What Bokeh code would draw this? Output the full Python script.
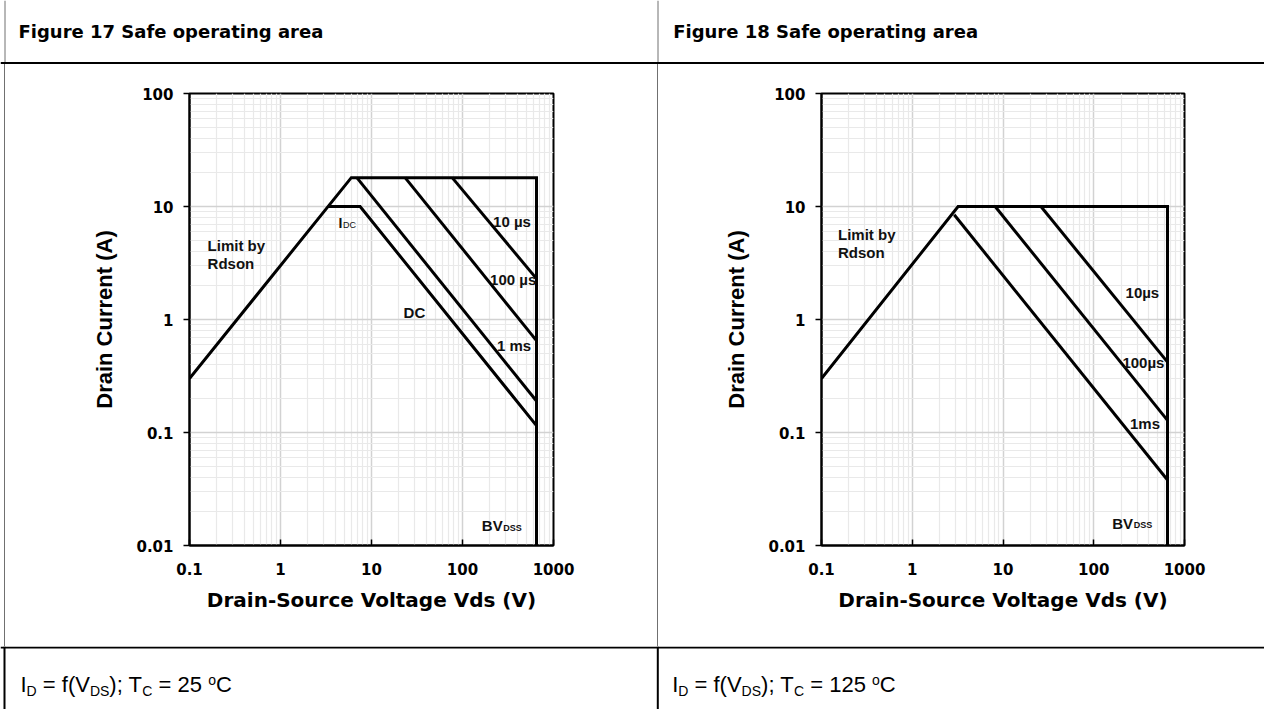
from bokeh.plotting import figure
from bokeh.layouts import column, row
from bokeh.models import Range1d, FixedTicker, Label, Span, Div, Spacer, CustomJSTickFormatter
from bokeh.embed import file_html
from bokeh.resources import INLINE

# ---------------- data ----------------
X_TICKS = [0.1, 1, 10, 100, 1000]
X_TICK_LABELS = ["0.1", "1", "10", "100", "1000"]
Y_TICKS = [0.01, 0.1, 1, 10, 100]
Y_TICK_LABELS = ["0.01", "0.1", "1", "10", "100"]
X_LABEL = "Drain-Source Voltage Vds (V)"
Y_LABEL = "Drain Current (A)"

# Figure 17 : Tc = 25 degC
F17_LIMIT_V = [0.1, 6.0, 650, 650]
F17_LIMIT_I = [0.3, 18, 18, 0.01]
F17_IDC_V = [3.33, 7.5, 650]
F17_IDC_I = [10, 10, 0.115]
F17_1MS_V = [6.9, 650]
F17_1MS_I = [18, 0.19]
F17_100US_V = [23.4, 650]
F17_100US_I = [18, 0.65]
F17_10US_V = [77, 650]
F17_10US_I = [18, 2.3]

# Figure 18 : Tc = 125 degC
F18_LIMIT_V = [0.1, 3.2, 650, 650]
F18_LIMIT_I = [0.3, 10, 10, 0.01]
F18_1MS_V = [2.9, 650]
F18_1MS_I = [8.45, 0.038]
F18_100US_V = [8.2, 650]
F18_100US_I = [10, 0.128]
F18_10US_V = [26.2, 650]
F18_10US_I = [10, 0.42]

TITLES = ["Figure 17 Safe operating area", "Figure 18 Safe operating area"]
TEMPS = ["25", "125"]

# grid minor positions (2..9 in each decade)
X_MINOR = [m * 10.0 ** e for e in range(-1, 3) for m in range(2, 10)]
Y_MINOR = [m * 10.0 ** e for e in range(-2, 2) for m in range(2, 10)]

LABEL_FONT = "Liberation Sans"
TICK_FONT = "DejaVu Sans"


def soa_plot(curves, labels, b_left, b_right, frame_w):
    p = figure(frame_width=frame_w, frame_height=452,
               min_border_left=b_left, min_border_right=b_right,
               min_border_top=29, min_border_bottom=101,
               x_axis_type="log", y_axis_type="log",
               x_range=Range1d(0.1, 1000), y_range=Range1d(0.01, 100),
               output_backend="svg", toolbar_location=None)
    p.background_fill_color = "white"
    p.border_fill_color = "white"
    p.outline_line_color = "black"
    p.outline_line_width = 2

    xt = FixedTicker(ticks=X_TICKS, minor_ticks=X_MINOR)
    yt = FixedTicker(ticks=Y_TICKS, minor_ticks=Y_MINOR)
    p.xaxis.ticker = xt
    p.xgrid.ticker = xt
    p.yaxis.ticker = yt
    p.ygrid.ticker = yt
    fmt = CustomJSTickFormatter(code="return String(tick);")
    p.xaxis.formatter = fmt
    p.yaxis.formatter = fmt
    p.xaxis.major_label_overrides = dict(zip(X_TICKS, X_TICK_LABELS))
    p.yaxis.major_label_overrides = dict(zip(Y_TICKS, Y_TICK_LABELS))

    for g in (p.xgrid, p.ygrid):
        g.grid_line_color = "#d2d2d2"
        g.grid_line_width = 1.5
        g.minor_grid_line_color = "#e9e9e9"
        g.minor_grid_line_width = 1.2

    for ax in (p.xaxis, p.yaxis):
        ax.axis_line_color = "black"
        ax.axis_line_width = 2
        ax.major_tick_line_color = "black"
        ax.major_tick_line_width = 1.5
        ax.minor_tick_line_color = None
        ax.major_label_text_font = TICK_FONT
        ax.major_label_text_font_style = "bold"
        ax.major_label_text_font_size = "15px"
        ax.major_label_text_color = "black"
        ax.axis_label_text_font_style = "bold"
        ax.axis_label_text_color = "black"

    p.xaxis.major_tick_in = 6
    p.xaxis.major_tick_out = 0
    p.xaxis.major_label_standoff = 13
    p.xaxis.axis_label = X_LABEL
    p.xaxis.axis_label_text_font = TICK_FONT
    p.xaxis.axis_label_text_font_size = "20px"
    p.xaxis.axis_label_standoff = 10

    p.yaxis.major_tick_in = 0
    p.yaxis.major_tick_out = 6
    p.yaxis.major_label_standoff = 10
    p.yaxis.axis_label = Y_LABEL
    p.yaxis.axis_label_text_font = LABEL_FONT
    p.yaxis.axis_label_text_font_size = "22px"
    p.yaxis.axis_label_standoff = 16

    for v, i in curves:
        p.line(v, i, line_color="black", line_width=3, line_join="miter")

    for (txt, x, y, size, style, xoff) in labels:
        p.add_layout(Label(x=x, y=y, x_offset=xoff, text=txt,
                           text_font=LABEL_FONT, text_font_style=style,
                           text_font_size=f"{size}px", text_color="#111111",
                           text_align="left", text_baseline="middle"))
    return p


left_curves = [(F17_LIMIT_V, F17_LIMIT_I), (F17_IDC_V, F17_IDC_I),
               (F17_1MS_V, F17_1MS_I), (F17_100US_V, F17_100US_I),
               (F17_10US_V, F17_10US_I)]
# (text, x, y(centre), font px, style, x offset px)
left_labels = [
    ("Limit by", 0.158, 4.51, 15, "bold", 0),
    ("Rdson", 0.158, 3.15, 15, "bold", 0),
    ("I", 4.34, 7.08, 14, "bold", 0),
    ("DC", 4.34, 6.82, 9, "normal", 4.5),
    ("DC", 22.5, 1.16, 15, "bold", 0),
    ("10 µs", 217, 7.35, 15, "bold", 0),
    ("100 µs", 201, 2.24, 15, "bold", 0),
    ("1 ms", 239, 0.587, 15, "bold", 0),
    ("BV", 163, 0.0150, 15, "bold", 0),
    ("DSS", 163, 0.01438, 9, "bold", 21.5),
]
right_curves = [(F18_LIMIT_V, F18_LIMIT_I), (F18_1MS_V, F18_1MS_I),
                (F18_100US_V, F18_100US_I), (F18_10US_V, F18_10US_I)]
right_labels = [
    ("Limit by", 0.152, 5.69, 15, "bold", 0),
    ("Rdson", 0.152, 3.94, 15, "bold", 0),
    ("10µs", 224, 1.75, 15, "bold", 0),
    ("100µs", 207, 0.416, 15, "bold", 0),
    ("1ms", 251, 0.121, 15, "bold", 0),
    ("BV", 160, 0.01574, 15, "bold", 0),
    ("DSS", 160, 0.0151, 9, "bold", 21.5),
]

p_left = soa_plot(left_curves, left_labels, 184, 104, 364)
p_right = soa_plot(right_curves, right_labels, 163, 80, 363)

W = 1264
MID = 657.5
GREY = "#707070"


def band(h):
    f = figure(width=W, height=h, x_range=Range1d(0, W), y_range=Range1d(h, 0),
               x_axis_type=None, y_axis_type=None, toolbar_location=None,
               output_backend="svg", min_border=0)
    f.outline_line_color = None
    f.background_fill_color = "white"
    f.border_fill_color = "white"
    return f


# header row (y 0..64)
header = band(64)
header.add_layout(Span(location=4.5, dimension="height", line_color=GREY, line_width=1))
header.add_layout(Span(location=MID, dimension="height", line_color=GREY, line_width=1))
header.add_layout(Span(location=62.5, dimension="width", line_color="black", line_width=2))
for x0, t in zip([18, 672.7], TITLES):
    header.add_layout(Label(x=x0, y=30.5, text=t, text_font=TICK_FONT,
                            text_font_style="bold", text_font_size="18px",
                            text_color="black", text_baseline="middle"))

# footer row (y 646..709)
footer = band(63)
footer.add_layout(Span(location=1, dimension="width", line_color="black", line_width=2))
footer.add_layout(Span(location=4, dimension="height", line_color="black", line_width=2))
footer.add_layout(Span(location=657.3, dimension="height", line_color="black", line_width=2))

ARIAL_W = {"I": 278, "D": 722, " ": 278, "=": 584, "f": 278, "(": 333, "V": 667,
           "S": 667, ")": 333, ";": 278, "T": 611, "C": 722, "1": 556, "2": 556,
           "5": 556, "o": 556}
BASE, SUB = 22, 14


def tw(s, size):
    return sum(ARIAL_W[c] for c in s) * size / 1000.0


def footer_text(x0, temp):
    base_line = 45.7
    pieces = [("I", "b"), ("D", "s"), (" = f(V", "b"), ("DS", "s"), ("); T", "b"),
              ("C", "s"), (" = " + temp + " ", "b"), ("o", "u"), ("C", "b")]
    x = x0
    for txt, kind in pieces:
        size = BASE if kind == "b" else SUB
        lead = len(txt) - len(txt.lstrip(" "))
        shown = txt.strip(" ")
        xs = x + tw(" " * lead, size)
        bl = base_line + (4 if kind == "s" else (-7 if kind == "u" else 0))
        yc = bl - 0.35 * size
        footer.add_layout(Label(x=xs, y=yc, text=shown, text_font=LABEL_FONT,
                                text_font_size=f"{size}px", text_color="black",
                                text_baseline="middle"))
        x += tw(txt, size)


footer_text(20, TEMPS[0])
footer_text(671.7, TEMPS[1])


def vline():
    return Div(text="", width=1, height=582, margin=0,
               styles={"background-color": GREY})


middle = row(Spacer(width=4, height=582), vline(), p_left, vline(), p_right, spacing=0)
layout = column(header, middle, footer, spacing=0)

open("out.html", "w").write(file_html(layout, INLINE))
